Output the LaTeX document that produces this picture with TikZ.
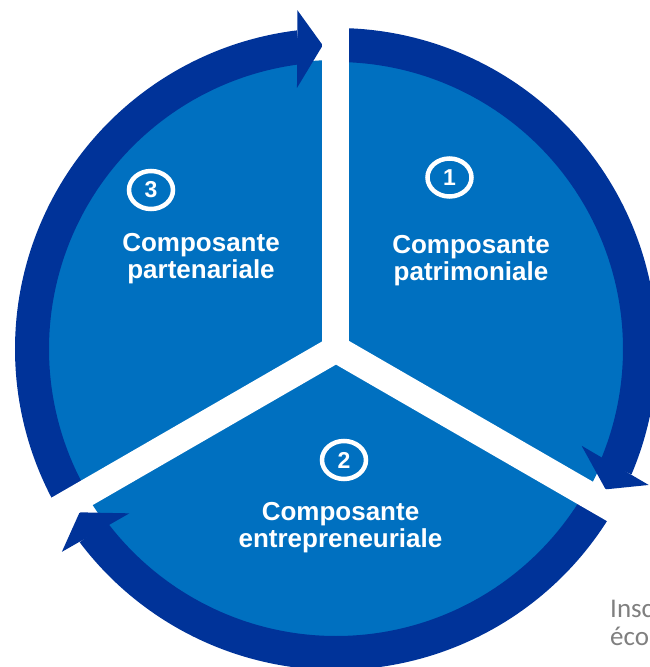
\documentclass[tikz,border=0pt]{standalone}
\usepackage{fontspec}
\setmainfont{Liberation Sans}
\newfontfamily\calib{Carlito}
\usetikzlibrary{shapes.geometric}
\definecolor{lightblu}{RGB}{0,112,192}
\definecolor{darkblu}{RGB}{0,51,153}
\definecolor{txtgray}{RGB}{127,127,127}
\begin{document}
\begin{tikzpicture}[x=1pt,y=1pt,
  ringarc/.style={draw=darkblu, line width=34pt},
  arrowtip/.style={fill=darkblu},
  gapline/.style={draw=white, line width=27pt},
  comptext/.style={text=white, font=\bfseries\fontsize{26}{27}\selectfont, align=center, inner sep=0pt},
  numcirc/.style={draw=white, line width=4.5pt, ellipse, minimum width=44pt, minimum height=38pt, inner sep=0pt, text=white, font=\bfseries\fontsize{23}{23}\selectfont},
  graytext/.style={text=txtgray, font=\calib\fontsize{27}{28}\selectfont, inner sep=0pt}
]
\useasboundingbox (-336,-318) rectangle (313,349);
\coordinate (c) at (0,0);
% pie
\fill[lightblu] (c) circle[radius=289pt];
% ring arcs
\draw[ringarc] (90:304pt) arc[start angle=90, end angle=-23, radius=304pt];
\draw[ringarc] (-30:304pt) arc[start angle=-30, end angle=-143, radius=304pt];
\draw[ringarc] (210:304pt) arc[start angle=210, end angle=97, radius=304pt];
% arrowheads
\coordinate (a1t) at (-27.5:304pt);
\coordinate (a1i) at (-21.5:264pt);
\coordinate (a1o) at (-23.5:341pt);
\coordinate (a2t) at (-147.5:304pt);
\coordinate (a2i) at (-141.5:264pt);
\coordinate (a2o) at (-143.5:341pt);
\coordinate (a3t) at (92.5:304pt);
\coordinate (a3i) at (98.5:264pt);
\coordinate (a3o) at (96.5:341pt);
\fill[arrowtip] (a1i) -- (a1t) -- (a1o) -- cycle;
\fill[arrowtip] (a2i) -- (a2t) -- (a2o) -- cycle;
\fill[arrowtip] (a3i) -- (a3t) -- (a3o) -- cycle;
% gaps
\coordinate (g90) at (90:420pt);
\coordinate (g330) at (-30:420pt);
\coordinate (g210) at (210:420pt);
\draw[gapline] (c) -- (g90);
\draw[gapline] (c) -- (g330);
\draw[gapline] (c) -- (g210);
% labels
\node[comptext] (t1) at (135,88.5) {Composante\\patrimoniale};
\node[comptext] (t3) at (-135,90) {Composante\\partenariale};
\node[comptext] (t2) at (4.5,-178.5) {Composante\\entrepreneuriale};
\node[numcirc] (n1) at (113.5,171.5) {1};
\node[numcirc] (n3) at (-185,159) {3};
\node[numcirc] (n2) at (8,-111) {2};
% cut-off side text
\node[graytext, anchor=base west] (s1) at (274,-268) {Insc};
\node[graytext, anchor=base west] (s2) at (274,-296) {éco};
\end{tikzpicture}
\end{document}
